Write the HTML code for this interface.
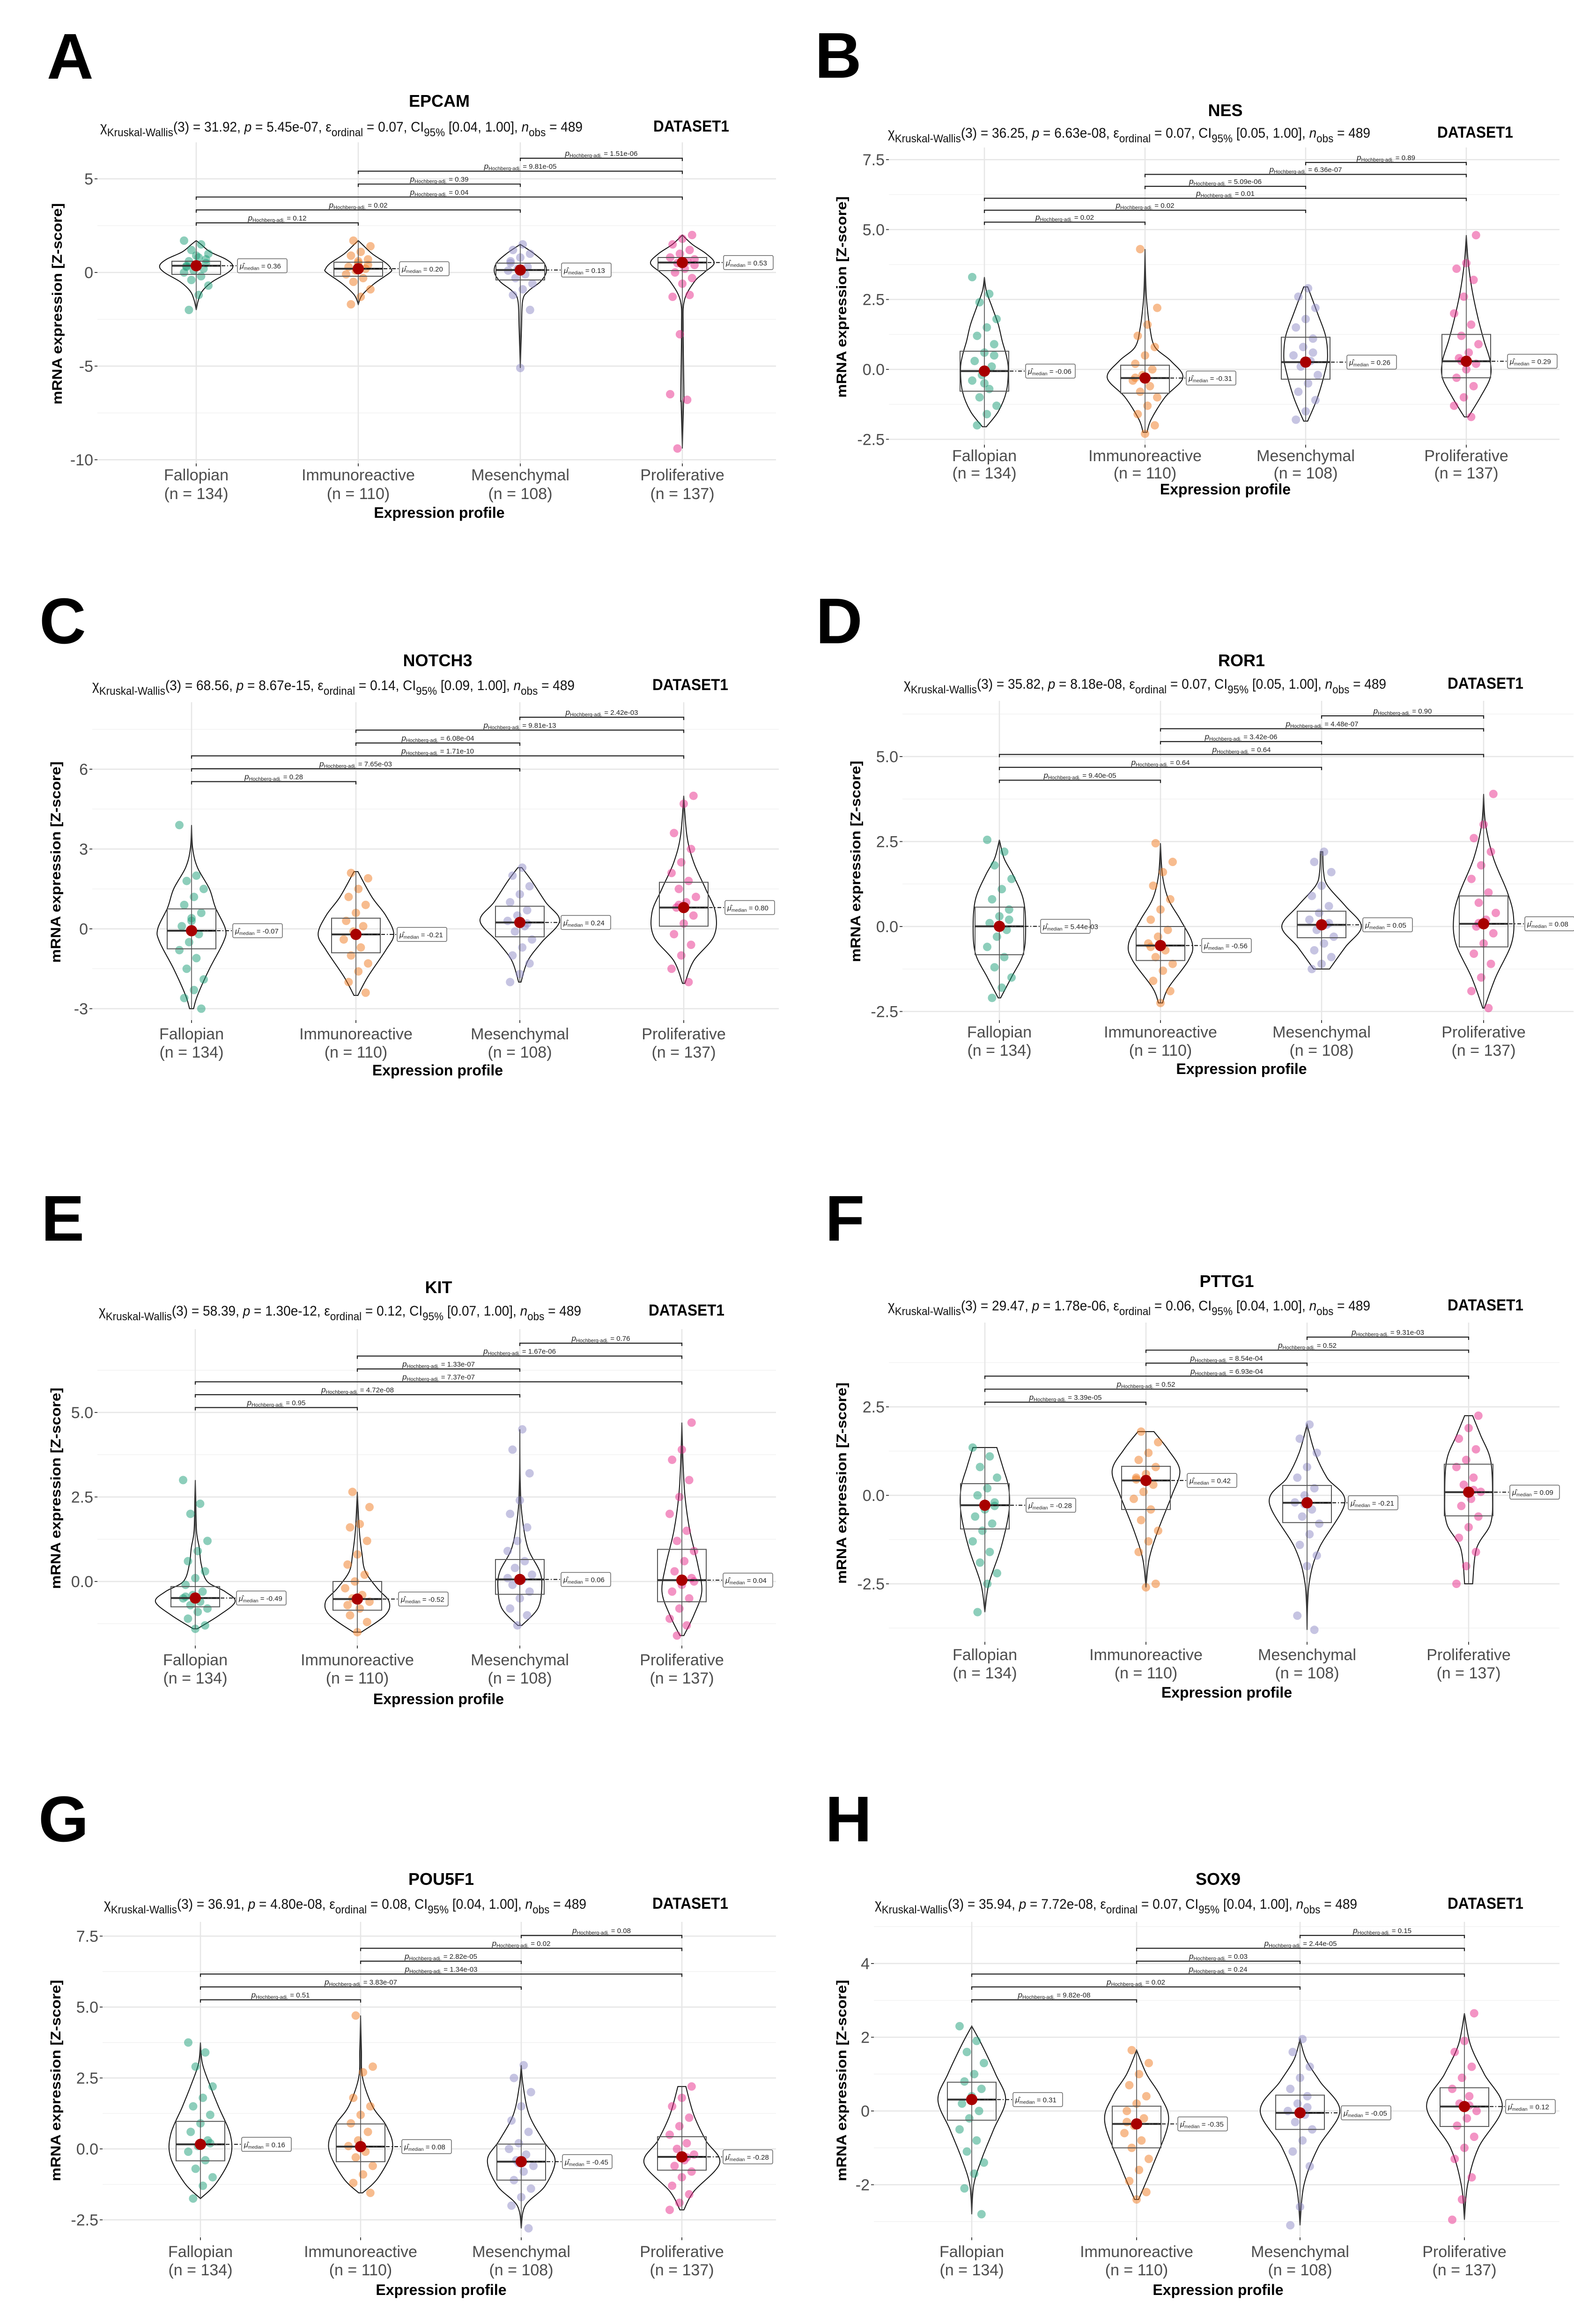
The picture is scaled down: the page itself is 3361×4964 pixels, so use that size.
<!DOCTYPE html>
<html><head><meta charset="utf-8"><style>
html,body{margin:0;padding:0;background:#fff;}
svg{display:block;font-family:"Liberation Sans",Arial,sans-serif;}
</style></head><body>
<svg id="fig" width="3361" height="4964" viewBox="0 0 3361 4964" xmlns="http://www.w3.org/2000/svg"></svg>
<script>
// ---------- DATA ----------
const categories = ["Fallopian","Immunoreactive","Mesenchymal","Proliferative"];
const catCounts = ["(n = 134)","(n = 110)","(n = 108)","(n = 137)"];
const panelLetters = ["A","B","C","D","E","F","G","H"];
const panelGenes = ["EPCAM","NES","NOTCH3","ROR1","KIT","PTTG1","POU5F1","SOX9"];
const statChi = ["31.92","36.25","68.56","35.82","58.39","29.47","36.91","35.94"];
const statP = ["5.45e-07","6.63e-08","8.67e-15","8.18e-08","1.30e-12","1.78e-06","4.80e-08","7.72e-08"];
const statEps = ["0.07","0.07","0.14","0.07","0.12","0.06","0.08","0.07"];
const statCI = ["[0.04, 1.00]","[0.05, 1.00]","[0.09, 1.00]","[0.05, 1.00]","[0.07, 1.00]","[0.04, 1.00]","[0.04, 1.00]","[0.04, 1.00]"];
const yTicks = [[5,0,-5,-10],[7.5,5,2.5,0,-2.5],[6,3,0,-3],[5,2.5,0,-2.5],[5,2.5,0],[2.5,0,-2.5],[7.5,5,2.5,0,-2.5],[4,2,0,-2]];
const yTickLabels = [["5","0","-5","-10"],["7.5","5.0","2.5","0.0","-2.5"],["6","3","0","-3"],["5.0","2.5","0.0","-2.5"],["5.0","2.5","0.0"],["2.5","0.0","-2.5"],["7.5","5.0","2.5","0.0","-2.5"],["4","2","0","-2"]];
// pairwise p-values, top-down: M-P, I-P, I-M, F-P, F-M, F-I
const pValues = [
 ["1.51e-06","9.81e-05","0.39","0.04","0.02","0.12"],
 ["0.89","6.36e-07","5.09e-06","0.01","0.02","0.02"],
 ["2.42e-03","9.81e-13","6.08e-04","1.71e-10","7.65e-03","0.28"],
 ["0.90","4.48e-07","3.42e-06","0.64","0.64","9.40e-05"],
 ["0.76","1.67e-06","1.33e-07","7.37e-07","4.72e-08","0.95"],
 ["9.31e-03","0.52","8.54e-04","6.93e-04","0.52","3.39e-05"],
 ["0.08","0.02","2.82e-05","1.34e-03","3.83e-07","0.51"],
 ["0.15","2.44e-05","0.03","0.24","0.02","9.82e-08"]];
const medianLabels = [
 ["0.36","0.20","0.13","0.53"],["-0.06","-0.31","0.26","0.29"],["-0.07","-0.21","0.24","0.80"],["5.44e-03","-0.56","0.05","0.08"],
 ["-0.49","-0.52","0.06","0.04"],["-0.28","0.42","-0.21","0.09"],["0.16","0.08","-0.45","-0.28"],["0.31","-0.35","-0.05","0.12"]];
// box stats per group: [min, q1, median, q3, max]
const boxStats = [
 [[-2.0,-0.1,0.36,0.6,1.7],[-1.7,-0.2,0.2,0.55,1.7],[-5.1,-0.4,0.13,0.5,1.5],[-9.4,0.1,0.53,0.8,2.0]],
 [[-2.05,-0.78,-0.06,0.65,3.3],[-2.25,-0.85,-0.31,0.15,4.3],[-1.85,-0.35,0.26,1.15,2.95],[-1.7,-0.3,0.29,1.25,4.8]],
 [[-3,-0.75,-0.07,0.75,3.9],[-2.5,-0.9,-0.21,0.4,2.15],[-2.0,-0.3,0.24,0.85,2.3],[-2.05,0.1,0.80,1.75,5.0]],
 [[-2.1,-0.83,0.005,0.57,2.55],[-2.25,-1.0,-0.56,0,2.45],[-1.25,-0.33,0.05,0.45,2.2],[-2.4,-0.6,0.08,0.9,3.9]],
 [[-1.4,-0.75,-0.49,-0.15,3.0],[-1.5,-0.85,-0.52,0,2.65],[-1.3,-0.38,0.06,0.65,4.5],[-1.6,-0.6,0.04,0.95,4.7]],
 [[-3.3,-0.95,-0.28,0.33,1.35],[-2.6,-0.4,0.42,0.82,1.8],[-3.8,-0.77,-0.21,0.28,2.0],[-2.5,-0.58,0.09,0.88,2.25]],
 [[-1.75,-0.42,0.16,0.97,3.75],[-1.55,-0.45,0.08,0.88,4.7],[-2.8,-1.1,-0.45,0.17,2.95],[-2.15,-0.75,-0.28,0.43,2.2]],
 [[-2.8,-0.25,0.31,0.78,2.3],[-2.4,-1.0,-0.35,0.13,1.65],[-3.1,-0.5,-0.05,0.43,1.95],[-2.95,-0.42,0.12,0.63,2.65]]];
// violin profile: [value, relative half-width]
const violins = [
 [[[-2.0,0],[-1.5,0.05],[-1.0,0.15],[-0.5,0.4],[0,0.8],[0.35,0.92],[0.7,0.75],[1.1,0.35],[1.5,0.12],[1.7,0]],
  [[-1.7,0],[-1.2,0.1],[-0.6,0.4],[0,0.8],[0.2,0.82],[0.5,0.7],[1.0,0.35],[1.5,0.1],[1.7,0]],
  [[-5.1,0],[-3,0.03],[-1.5,0.06],[-1.0,0.2],[-0.5,0.5],[0,0.65],[0.5,0.6],[1.0,0.35],[1.5,0]],
  [[-9.4,0],[-7,0.03],[-6.6,0.04],[-3,0.02],[-1.5,0.05],[-0.5,0.3],[0,0.55],[0.5,0.8],[1.0,0.6],[1.5,0.25],[2.0,0]]],
 [[[-2.05,0.05],[-1.5,0.35],[-0.8,0.55],[0,0.6],[0.5,0.55],[1.0,0.45],[1.6,0.35],[2.2,0.2],[2.8,0.05],[3.3,0]],
  [[-2.25,0.05],[-1.8,0.15],[-1.0,0.5],[-0.3,0.95],[0.3,0.65],[0.8,0.25],[1.5,0.12],[2.3,0.05],[3.0,0.02],[4.3,0]],
  [[-1.85,0.05],[-1.0,0.3],[0,0.5],[0.5,0.55],[1.2,0.5],[2.0,0.3],[2.95,0.05]],
  [[-1.7,0.05],[-1.0,0.35],[-0.3,0.6],[0.3,0.6],[1.0,0.45],[1.8,0.3],[2.8,0.15],[3.8,0.05],[4.8,0]]],
 [[[-3,0.05],[-2.5,0.15],[-1.5,0.45],[-0.5,0.8],[0,0.85],[0.8,0.6],[1.5,0.45],[2.3,0.15],[3.0,0.03],[3.9,0]],
  [[-2.5,0.05],[-1.8,0.3],[-0.8,0.75],[-0.2,0.95],[0.5,0.75],[1.2,0.4],[2.15,0.05]],
  [[-2.0,0.03],[-1.2,0.2],[-0.5,0.55],[0.3,1.0],[1.0,0.65],[1.8,0.3],[2.3,0.05]],
  [[-2.05,0.03],[-1.2,0.25],[-0.3,0.75],[0.6,0.8],[1.5,0.55],[2.5,0.25],[3.5,0.08],[5,0]]],
 [[[-2.1,0.03],[-1.5,0.3],[-0.8,0.6],[0,0.66],[0.8,0.6],[1.5,0.35],[2.0,0.12],[2.55,0]],
  [[-2.25,0.05],[-1.8,0.2],[-1.0,0.7],[-0.5,0.8],[0.2,0.5],[0.8,0.2],[1.5,0.05],[2.45,0]],
  [[-1.25,0.2],[-0.6,0.6],[0,1.0],[0.6,0.6],[1.2,0.15],[1.6,0.05],[2.2,0.03]],
  [[-2.4,0.02],[-1.5,0.3],[-0.5,0.7],[0.3,0.75],[1.0,0.6],[2.0,0.25],[3.0,0.05],[3.9,0]]],
 [[[-1.4,0.05],[-1.0,0.6],[-0.6,1.0],[-0.3,0.75],[0,0.3],[0.5,0.15],[1.0,0.1],[1.5,0.03],[2.5,0.01],[3.0,0]],
  [[-1.5,0.1],[-1.0,0.7],[-0.6,0.8],[-0.2,0.5],[0.3,0.2],[0.8,0.12],[1.5,0.05],[2.65,0]],
  [[-1.3,0.05],[-0.8,0.45],[-0.2,0.55],[0.3,0.5],[1.0,0.2],[2.0,0.05],[3.0,0.01],[4.5,0]],
  [[-1.6,0.05],[-1.0,0.3],[-0.3,0.5],[0.5,0.4],[1.5,0.2],[2.5,0.08],[3.5,0.03],[4.7,0]]],
 [[[-3.3,0],[-2.5,0.1],[-1.5,0.4],[-0.5,0.6],[0.2,0.6],[0.8,0.45],[1.35,0.3]],
  [[-2.6,0],[-1.8,0.08],[-1.0,0.3],[0,0.65],[0.7,0.85],[1.3,0.55],[1.8,0.2]],
  [[-3.8,0],[-2.5,0.05],[-1.5,0.3],[-0.2,0.95],[0.5,0.5],[1.2,0.2],[2.0,0]],
  [[-2.5,0.1],[-1.5,0.2],[-0.8,0.55],[0,0.6],[1.0,0.55],[1.7,0.3],[2.25,0.1]]],
 [[[-1.75,0],[-1.2,0.4],[-0.3,0.75],[0.5,0.75],[1.5,0.45],[2.2,0.25],[3,0.05],[3.75,0]],
  [[-1.55,0.05],[-1,0.45],[0,0.8],[0.8,0.65],[1.5,0.3],[2.5,0.05],[3.5,0.02],[4.7,0]],
  [[-2.8,0],[-2,0.1],[-1.3,0.6],[-0.4,0.85],[0.3,0.55],[1.2,0.2],[2.2,0.05],[2.95,0]],
  [[-2.15,0.05],[-1.5,0.3],[-0.5,0.95],[0.3,0.6],[1.2,0.3],[2.2,0.1]]],
 [[[-2.8,0],[-2,0.05],[-1.3,0.25],[-0.5,0.55],[0.3,0.85],[1.0,0.6],[1.8,0.25],[2.3,0]],
  [[-2.4,0.05],[-1.5,0.4],[-0.3,0.8],[0.4,0.6],[1.0,0.25],[1.65,0]],
  [[-3.1,0],[-2,0.1],[-1,0.45],[0,1.0],[0.8,0.5],[1.4,0.15],[1.95,0]],
  [[-2.95,0],[-2,0.08],[-1.0,0.35],[0.1,0.95],[1.0,0.5],[1.8,0.15],[2.65,0]]]];
// jittered points (values)
const pointValues = [
 [[1.7,1.5,1.2,1.0,0.8,0.6,0.5,0.4,0.3,0.2,0.1,0,-0.2,-0.4,-0.7,-1.2,-2.0,0.7,0.9,0.35],
  [1.7,1.4,1.1,0.9,0.7,0.5,0.3,0.2,0.1,-0.1,-0.3,-0.5,-0.9,-1.3,-1.7,0.4,0.6],
  [1.5,1.2,1.0,0.8,0.5,0.3,0.2,0.1,-0.1,-0.3,-0.6,-0.9,-1.2,-2.0,-5.1,0.6],
  [2.0,1.8,1.5,1.2,1.0,0.8,0.6,0.5,0.4,0.2,0,-0.3,-0.6,-1.3,-1.2,-3.3,-6.5,-6.8,-9.4,0.7]],
 [[3.3,2.7,2.4,1.8,1.5,1.2,0.9,0.6,0.3,0.1,-0.2,-0.4,-0.7,-1.0,-1.3,-1.6,-2.0,0.5,-0.5],
  [4.3,2.2,1.6,1.2,0.8,0.5,0.2,0,-0.2,-0.4,-0.6,-0.8,-1.0,-1.3,-1.6,-2.0,-2.3,-0.3],
  [2.9,2.6,2.2,1.8,1.5,1.1,0.8,0.5,0.3,0.1,-0.2,-0.5,-0.8,-1.1,-1.5,-1.8,0.6],
  [4.8,3.8,3.6,3.2,2.6,2.0,1.6,1.2,0.9,0.6,0.4,0.2,0,-0.3,-0.6,-1.0,-1.3,-1.7,0.3]],
 [[3.9,2.0,1.8,1.5,1.2,0.9,0.6,0.3,0.1,-0.2,-0.5,-0.8,-1.1,-1.5,-1.9,-2.3,-2.6,-3.0,0.4],
  [2.1,1.9,1.5,1.2,0.9,0.6,0.3,0.1,-0.1,-0.4,-0.7,-1.0,-1.3,-1.6,-2.0,-2.4,-0.2],
  [2.3,2.0,1.6,1.3,1.0,0.7,0.5,0.3,0.1,-0.1,-0.4,-0.7,-1.0,-1.3,-1.7,-2.0,0.2],
  [5.0,4.7,3.6,3.0,2.5,2.1,1.8,1.5,1.2,1.0,0.8,0.5,0.2,-0.2,-0.6,-1.0,-1.5,-2.0,0.9]],
 [[2.55,2.2,1.8,1.4,1.1,0.8,0.5,0.3,0.1,-0.1,-0.3,-0.6,-0.9,-1.2,-1.5,-1.8,-2.1,0.2],
  [2.45,1.9,1.6,1.2,0.8,0.5,0.2,-0.1,-0.3,-0.5,-0.7,-0.9,-1.1,-1.3,-1.6,-1.9,-2.25,-0.6],
  [2.2,1.9,1.6,1.2,0.9,0.6,0.4,0.2,0.05,-0.1,-0.3,-0.5,-0.7,-0.9,-1.1,-1.25,0.1],
  [3.9,3.0,2.6,2.2,1.8,1.4,1.0,0.7,0.4,0.2,0,-0.2,-0.5,-0.8,-1.1,-1.5,-1.9,-2.4,0.1]],
 [[3.0,2.3,2.0,1.2,0.9,0.6,0.3,0.1,-0.1,-0.3,-0.4,-0.5,-0.6,-0.7,-0.8,-0.9,-1.1,-1.3,-1.4,-0.45],
  [2.65,2.2,1.7,1.6,1.2,0.8,0.5,0.2,0,-0.2,-0.4,-0.5,-0.6,-0.8,-1.0,-1.2,-1.5,-0.7],
  [4.5,3.9,3.2,2.4,2.0,1.6,1.2,0.9,0.6,0.4,0.2,0.05,-0.1,-0.3,-0.5,-0.8,-1.0,-1.3,0.1],
  [4.7,3.9,3.6,3.0,2.5,2.0,1.5,1.2,0.9,0.6,0.3,0.1,-0.1,-0.3,-0.5,-0.8,-1.1,-1.3,-1.6,0]],
 [[1.35,1.1,0.8,0.5,0.2,0,-0.2,-0.4,-0.6,-0.8,-1.0,-1.3,-1.6,-1.9,-2.2,-2.5,-3.3,-0.3],
  [1.8,1.5,1.2,1.0,0.8,0.6,0.45,0.3,0.1,-0.1,-0.4,-0.7,-1.0,-1.3,-1.6,-2.5,-2.6,0.5],
  [2.0,1.6,1.2,0.8,0.5,0.2,0,-0.2,-0.4,-0.6,-0.8,-1.1,-1.4,-1.7,-2.0,-3.4,-3.8,-0.25],
  [2.25,1.9,1.6,1.3,1.0,0.8,0.5,0.3,0.1,-0.1,-0.3,-0.6,-0.9,-1.2,-1.6,-2.0,-2.5,0.15]],
 [[3.75,3.4,2.9,2.2,1.8,1.5,1.2,0.9,0.6,0.3,0.1,-0.1,-0.4,-0.7,-1.0,-1.3,-1.75,0.2],
  [4.7,2.9,2.7,1.8,1.5,1.2,0.9,0.6,0.3,0.1,-0.1,-0.3,-0.6,-0.9,-1.2,-1.55,0.05],
  [2.95,2.5,2.0,1.5,1.0,0.6,0.2,0,-0.2,-0.4,-0.6,-0.8,-1.1,-1.4,-1.7,-2.0,-2.8,-0.5],
  [2.2,1.8,1.5,1.1,0.8,0.5,0.2,0,-0.2,-0.4,-0.6,-0.8,-1.0,-1.3,-1.6,-1.9,-2.15,-0.3]],
 [[2.3,1.9,1.6,1.3,1.0,0.8,0.6,0.4,0.2,0,-0.2,-0.5,-0.8,-1.1,-1.4,-1.7,-2.1,-2.8,0.35],
  [1.65,1.3,1.0,0.7,0.4,0.2,0,-0.2,-0.4,-0.6,-0.8,-1.0,-1.3,-1.6,-1.9,-2.2,-2.4,-0.3],
  [1.95,1.6,1.2,0.9,0.6,0.4,0.2,0,-0.1,-0.3,-0.5,-0.8,-1.1,-1.5,-2.6,-3.1,0.1],
  [2.65,1.9,1.6,1.2,0.9,0.6,0.4,0.2,0,-0.2,-0.4,-0.7,-1.0,-1.3,-1.8,-2.4,-2.95,0.15]]];

// ---------- LAYOUT (pixel geometry, not data) ----------
const L = [
 {lx:100,ly:168,cx:[419,765,1111,1457],cal:[5,382,0,582],top:304,bot:990,gl:208,gr:1657,tY:228,sX:214,sY:281,dX:1395,bY:338,bS:27.6,yt:132,l1:1026,l2:1066,xl:1106},
 {lx:1740,ly:166,cx:[2102,2445,2788,3131],cal:[7.5,341,0,789],top:315,bot:950,gl:1898,gr:3330,tY:248,sX:1896,sY:294,dX:3069,bY:347,bS:25.5,yt:1807,l1:985,l2:1022,xl:1056},
 {lx:84,ly:1374,cx:[409,760,1110,1460],cal:[6,1643,0,1984],top:1500,bot:2179,gl:197,gr:1663,tY:1423,sX:197,sY:1474,dX:1393,bY:1532,bS:27.5,yt:129,l1:2220,l2:2259,xl:2297},
 {lx:1742,ly:1374,cx:[2134,2478,2822,3168],cal:[5,1616,0,1979],top:1497,bot:2179,gl:1927,gr:3360,tY:1423,sX:1930,sY:1471,dX:3091,bY:1529,bS:27.5,yt:1837,l1:2216,l2:2255,xl:2294},
 {lx:88,ly:2650,cx:[417,763,1110,1456],cal:[5,3017,0,3378],top:2839,bot:3515,gl:208,gr:1657,tY:2762,sX:211,sY:2810,dX:1385,bY:2869,bS:27.5,yt:129,l1:3557,l2:3596,xl:3640},
 {lx:1762,ly:2650,cx:[2103,2447,2791,3136],cal:[2.5,3005,0,3194],top:2825,bot:3507,gl:1898,gr:3330,tY:2749,sX:1896,sY:2799,dX:3091,bY:2856,bS:27.8,yt:1807,l1:3546,l2:3585,xl:3626},
 {lx:82,ly:3933,cx:[428,770,1113,1456],cal:[5,4287,0,4590],top:4105,bot:4779,gl:219,gr:1657,tY:4026,sX:222,sY:4077,dX:1393,bY:4134,bS:27.5,yt:129,l1:4821,l2:4860,xl:4902},
 {lx:1762,ly:3933,cx:[2075,2427,2776,3127],cal:[4,4194,0,4509],top:4105,bot:4779,gl:1866,gr:3330,tY:4026,sX:1868,sY:4077,dX:3091,bY:4134,bS:27.5,yt:1807,l1:4821,l2:4860,xl:4902}];
const colors = ["#1B9E77","#F07A20","#8D89C6","#E7298A"];
const bracketPairs = [[2,3],[1,3],[1,2],[0,3],[0,2],[0,1]];

const NS = "http://www.w3.org/2000/svg";
const svg = document.getElementById('fig');
function mk(tag, attrs, parent, text){
  const e = document.createElementNS(NS, tag);
  for (const k in attrs) e.setAttribute(k, attrs[k]);
  if (text !== undefined) e.textContent = text;
  (parent||svg).appendChild(e);
  return e;
}
function smoothPath(pts){ // catmull-rom to bezier
  let d = "M"+pts[0][0].toFixed(1)+","+pts[0][1].toFixed(1);
  for (let i=0;i<pts.length-1;i++){
    const p0=pts[Math.max(0,i-1)],p1=pts[i],p2=pts[i+1],p3=pts[Math.min(pts.length-1,i+2)];
    const c1=[p1[0]+(p2[0]-p0[0])/6,p1[1]+(p2[1]-p0[1])/6];
    const c2=[p2[0]-(p3[0]-p1[0])/6,p2[1]-(p3[1]-p1[1])/6];
    d+=" C"+c1[0].toFixed(1)+","+c1[1].toFixed(1)+" "+c2[0].toFixed(1)+","+c2[1].toFixed(1)+" "+p2[0].toFixed(1)+","+p2[1].toFixed(1);
  }
  return d;
}

for (let p=0;p<8;p++){
  const g = L[p];
  const Y = v => g.cal[3] + (v - g.cal[2])*(g.cal[1]-g.cal[3])/(g.cal[0]-g.cal[2]);
  const pg = mk('g',{}); 
  
  
  const lt = mk('text',{x:g.lx,y:g.ly,'font-size':138,'font-weight':'bold',fill:'#000'},pg,panelLetters[p]);
   
  // grid
  const grid = mk('g',{},pg);
   
  const tk = yTicks[p];
  const step = tk[0]-tk[1];
  for (let v=tk[tk.length-1]-step; v<=tk[0]+step+1e-9; v+=step/2){
    const y = Y(v);
    if (y<g.top-2||y>g.bot+2) continue;
    const major = tk.some(t=>Math.abs(t-v)<1e-9);
    mk('line',{x1:g.gl,x2:g.gr,y1:y,y2:y,stroke:major?'#e6e6e6':'#f2f2f2','stroke-width':major?2.5:1.5},grid);
  }
  g.cx.forEach(x=>mk('line',{x1:x,x2:x,y1:g.top,y2:g.bot,stroke:'#e6e6e6','stroke-width':2.5},grid));
  // y ticks
  tk.forEach((v,i)=>{
    const y=Y(v);
    mk('line',{x1:g.gl-6,x2:g.gl,y1:y,y2:y,stroke:'#444','stroke-width':2},pg);
    const t=mk('text',{x:g.gl-9,y:y+12,'font-size':34,'text-anchor':'end',fill:'#4d4d4d'},pg,yTickLabels[p][i]);
     
  });
  // y title
  const ymid=(g.top+g.bot)/2+2;
  const yt=mk('text',{x:g.yt,y:ymid,'font-size':30,'font-weight':'bold','text-anchor':'middle',transform:`rotate(-90 ${g.yt} ${ymid})`,textLength:430,lengthAdjust:'spacingAndGlyphs'},pg,'mRNA expression [Z-score]');
   
  // title
  const tcx=(g.cx[0]+g.cx[3])/2;
  const tt=mk('text',{x:tcx,y:g.tY,'font-size':36,'font-weight':'bold','text-anchor':'middle'},pg,panelGenes[p]);
   
  // stats subtitle
  const st=mk('text',{x:g.sX,y:g.sY,'font-size':30,fill:'#111',textLength:1030,lengthAdjust:'spacingAndGlyphs'},pg);
   
  const parts=[['χ',0],['Kruskal-Wallis',1],['(3) = '+statChi[p]+', ',0],['p',2],[' = '+statP[p]+', ',0],['ε',0],['ordinal',1],[' = '+statEps[p]+', CI',0],['95%',1],[' '+statCI[p]+', ',0],['n',2],['obs',1],[' = 489',0]];
  let sub=false;
  parts.forEach(([s,k])=>{
    const a={};
    if(k===1&&!sub){a.dy=10;a['font-size']=24;sub=true;}
    else if(k===1){a['font-size']=24;}
    else if(sub){a.dy=-10;sub=false;}
    if(k===2)a['font-style']='italic';
    mk('tspan',a,st,s);
  });
  const ds=mk('text',{x:g.dX,y:g.sY,'font-size':34,'font-weight':'bold',textLength:162,lengthAdjust:'spacingAndGlyphs'},pg,'DATASET1');
   
  // brackets
  bracketPairs.forEach(([a,b],i)=>{
    const y=g.bY+i*g.bS;
    const br=mk('path',{d:`M${g.cx[a]},${y+6} V${y} H${g.cx[b]} V${y+6}`,fill:'none',stroke:'#222','stroke-width':2.2},pg);
     
    const pt=mk('text',{x:(g.cx[a]+g.cx[b])/2,y:y-5,'font-size':15,'text-anchor':'middle',fill:'#222'},pg);
     
    mk('tspan',{'font-style':'italic','font-size':17},pt,'p');
    mk('tspan',{'font-size':11,dy:3},pt,'Hochberg-adj.');
    mk('tspan',{dy:-3},pt,' = '+pValues[p][i]);
  });
  // groups
  for (let c=0;c<4;c++){
    const cx=g.cx[c], s=boxStats[p][c];
    const gg=mk('g',{},pg);
    
    
    const v=violins[p][c];
    const right=v.map(q=>[cx+q[1]*85,Y(q[0])]);
    const left=v.slice().reverse().map(q=>[cx-q[1]*85,Y(q[0])]);
    const vp=mk('path',{d:smoothPath(right)+" L"+left[0][0].toFixed(1)+","+left[0][1].toFixed(1)+" "+smoothPath(left).slice(1)+" Z",fill:'none',stroke:'#111','stroke-width':2},gg);
     
    pointValues[p][c].forEach((val,i)=>{
      const dx=(((i*7+c*3)%11)-5)/5*26;
      const pt=mk('circle',{cx:cx+dx,cy:Y(val),r:9,fill:colors[c],'fill-opacity':0.5},gg);
       
    });
    mk('line',{x1:cx,x2:cx,y1:Y(s[0]),y2:Y(s[4]),stroke:'#555','stroke-width':1.6},gg);
    const bx=mk('rect',{x:cx-52,y:Y(s[3]),width:104,height:Y(s[1])-Y(s[3]),fill:'none',stroke:'#555','stroke-width':2},gg);
     
    const my=Y(s[2]);
    mk('line',{x1:cx-52,x2:cx+52,y1:my,y2:my,stroke:'#333','stroke-width':4},gg);
    mk('line',{x1:cx,x2:cx+88,y1:my,y2:my,stroke:'#111','stroke-width':2,'stroke-dasharray':'8 4 2 4'},gg);
    const md=mk('circle',{cx:cx,cy:my,r:12,fill:'#a80000'},gg);
     
    const lb=mk('rect',{x:cx+88,y:my-15,width:106,height:30,rx:3,fill:'#fff',stroke:'#666','stroke-width':1.5},gg);
     
    const lt2=mk('text',{x:cx+93,y:my+6,'font-size':15,fill:'#222'},gg);
     
    mk('tspan',{'font-style':'italic','font-size':16},lt2,'μ̂');
    mk('tspan',{'font-size':10,dy:3},lt2,'median');
    mk('tspan',{dy:-3},lt2,' = '+medianLabels[p][c]);
    // x labels
    mk('line',{x1:cx,x2:cx,y1:g.bot,y2:g.bot+6,stroke:'#444','stroke-width':2},pg);
    const xl1=mk('text',{x:cx,y:g.l1,'font-size':34,'text-anchor':'middle',fill:'#4d4d4d'},pg,categories[c]);
     
    const xl2=mk('text',{x:cx,y:g.l2,'font-size':34,'text-anchor':'middle',fill:'#4d4d4d'},pg,catCounts[c]);
     
  }
  const xt=mk('text',{x:tcx,y:g.xl,'font-size':32,'font-weight':'bold','text-anchor':'middle'},pg,'Expression profile');
   
}
</script>
</body></html>
